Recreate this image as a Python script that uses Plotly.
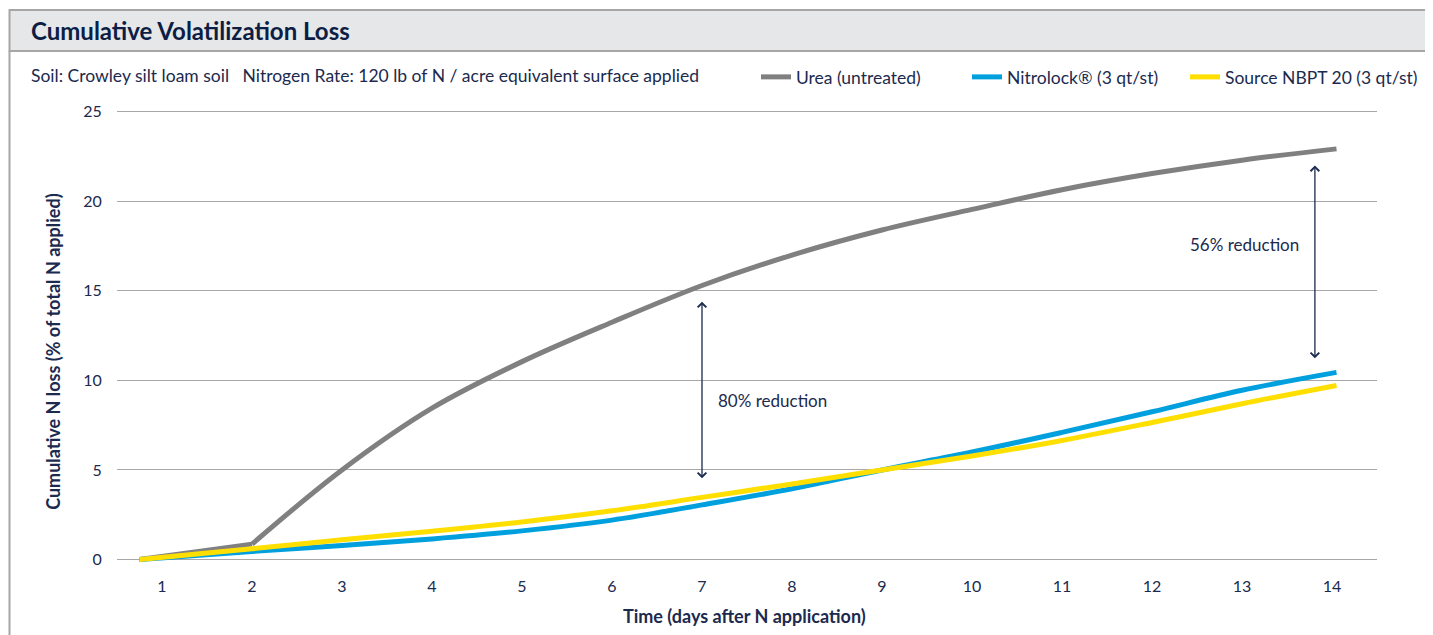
import plotly.graph_objects as go

# ---- data ----
days = [0.75, 2, 3, 4, 5, 6, 7, 8, 9, 10, 11, 12, 13, 14.05]
urea = [0, 0.86, 5.0, 8.45, 11.05, 13.25, 15.3, 17.0, 18.4, 19.55, 20.65, 21.55, 22.3, 22.93]
nitrolock = [0, 0.45, 0.78, 1.15, 1.6, 2.2, 3.05, 3.95, 5.0, 6.0, 7.1, 8.25, 9.45, 10.45]
nbpt = [0, 0.6, 1.1, 1.58, 2.1, 2.72, 3.47, 4.22, 5.0, 5.78, 6.65, 7.65, 8.7, 9.72]
series_names = ["Urea (untreated)", "Nitrolock\u00ae (3 qt/st)", "Source NBPT 20 (3 qt/st)"]
x_ticks = list(range(1, 15))
y_ticks = [0, 5, 10, 15, 20, 25]

NAVY = "#1b2a4e"
FONT = "Lato"
OFF = 8  # page body margin
W, H = 1433 - OFF, 635 - OFF
L = 117 - OFF
T = 109.7 - OFF
R = W - (1377 - OFF)
B = H - (564.5 - OFF)
PW, PH = W - L - R, H - T - B


def px(x):
    return (x - OFF - L) / PW


def py(y):
    return (H - B - (y - OFF)) / PH


def cx(x):
    return (x - OFF) / W


def cy(y):
    return 1 - (y - OFF) / H


GRAY, BLUE, YELLOW = "#808080", "#00a0df", "#ffdf00"

fig = go.Figure()
# urea: straight first segment (sharp kink at day 2), smooth afterwards
fig.add_trace(go.Scatter(x=days[:2], y=urea[:2], mode="lines", legendgroup="u", showlegend=False,
                         line=dict(color=GRAY, width=5), hoverinfo="skip"))
fig.add_trace(go.Scatter(x=days[1:], y=urea[1:], name=series_names[0], mode="lines", legendgroup="u",
                         legend="legend", line=dict(color=GRAY, width=5, shape="spline", smoothing=1.0)))
fig.add_trace(go.Scatter(x=days, y=nitrolock, name=series_names[1], mode="lines", legend="legend2",
                         line=dict(color=BLUE, width=5, shape="spline", smoothing=1.0)))
fig.add_trace(go.Scatter(x=days, y=nbpt, name=series_names[2], mode="lines", legend="legend3",
                         line=dict(color=YELLOW, width=5, shape="spline", smoothing=1.0)))

shapes = [
    dict(type="rect", xref="paper", yref="paper", x0=px(9.5), x1=px(1445), y0=py(50.5), y1=py(9.5),
         fillcolor="#e6e7e9", line=dict(color="#a6a6a6", width=2), layer="below"),
    dict(type="line", xref="paper", yref="paper", x0=px(9.5), x1=px(9.5), y0=py(50.5), y1=py(645),
         line=dict(color="#a6a6a6", width=2), layer="below"),
]

annotations = [
    dict(text="<b>Cumulative Volatilization Loss</b>", xref="paper", yref="paper", x=px(29), y=py(30),
         xanchor="left", yanchor="middle", showarrow=False, font=dict(family=FONT, size=24, color="#0d1e45")),
    dict(text="Soil: Crowley silt loam soil&nbsp;&nbsp;&nbsp;Nitrogen Rate: 120 lb of N / acre equivalent surface applied",
         xref="paper", yref="paper", x=px(29), y=py(75), xanchor="left", yanchor="middle", showarrow=False,
         font=dict(family=FONT, size=17.5, color=NAVY)),
    dict(text="<b>Cumulative N loss (% of total N applied)</b>", xref="paper", yref="paper", x=px(53), y=py(352),
         xanchor="center", yanchor="middle", textangle=-90, showarrow=False, font=dict(family=FONT, size=18, color=NAVY)),
    dict(text="<b>Time (days after N application)</b>", xref="paper", yref="paper", x=px(744), y=py(617),
         xanchor="center", yanchor="middle", showarrow=False, font=dict(family=FONT, size=18, color=NAVY)),
    # double-headed arrows
    dict(x=7, y=14.4, ax=7, ay=4.45, xref="x", yref="y", axref="x", ayref="y", text="", showarrow=True,
         arrowside="end+start", arrowhead=4, arrowsize=1.3, arrowwidth=1.3, arrowcolor=NAVY),
    dict(x=13.81, y=22.0, ax=13.81, ay=11.15, xref="x", yref="y", axref="x", ayref="y", text="", showarrow=True,
         arrowside="end+start", arrowhead=4, arrowsize=1.3, arrowwidth=1.3, arrowcolor=NAVY),
    dict(text="80% reduction", x=7.15, y=8.9, xref="x", yref="y", xanchor="left", yanchor="middle",
         showarrow=False, font=dict(family=FONT, size=17, color=NAVY)),
    dict(text="56% reduction", x=13.65, y=17.6, xref="x", yref="y", xanchor="right", yanchor="middle",
         showarrow=False, font=dict(family=FONT, size=17, color=NAVY)),
]


def legend_at(x_screen):
    return dict(orientation="h", xref="container", yref="container", x=cx(x_screen), xanchor="left",
                y=cy(77), yanchor="middle",
                font=dict(family=FONT, size=17.5, color=NAVY), bgcolor="rgba(0,0,0,0)")


fig.update_layout(
    width=W, height=H,
    margin=dict(l=L, r=R, t=T, b=B, autoexpand=False),
    paper_bgcolor="white", plot_bgcolor="white",
    font=dict(family=FONT, color=NAVY, size=16),
    shapes=shapes, annotations=annotations,
    showlegend=True,
    legend=legend_at(756),
    legend2=legend_at(967),
    legend3=legend_at(1185),
    xaxis=dict(range=[0.5, 14.5], tickvals=x_ticks, showgrid=False, zeroline=False, showline=False,
               ticks="outside", ticklen=8, tickcolor="rgba(0,0,0,0)", tickfont=dict(size=16, color=NAVY)),
    yaxis=dict(range=[-0.25, 25.1], tickvals=y_ticks, showgrid=True, gridcolor="#a8a8a8", gridwidth=1.3,
               zeroline=False, showline=False, ticks="outside", ticklen=11, tickcolor="rgba(0,0,0,0)",
               tickfont=dict(size=16, color=NAVY)),
)

fig.write_html("out.html")
